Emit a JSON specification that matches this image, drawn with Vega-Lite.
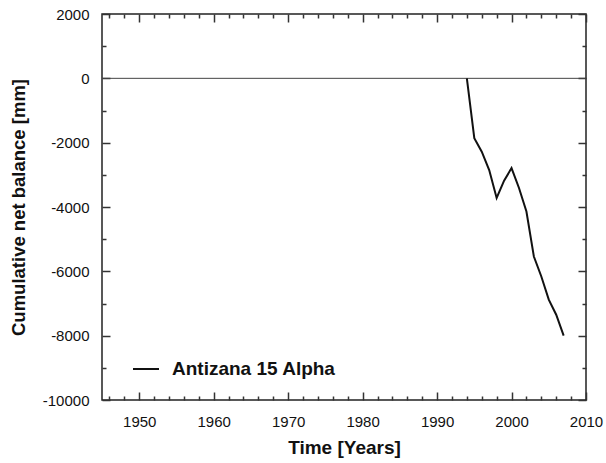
{
  "$schema": "https://vega.github.io/schema/vega-lite/v6.json",
  "width": 484,
  "height": 386,
  "autosize": "none",
  "padding": {"left": 102, "top": 14, "right": 20, "bottom": 63},
  "background": "white",
  "config": {
    "font": "Liberation Sans",
    "view": {"stroke": "#222", "strokeWidth": 1.5},
    "axis": {
      "grid": false,
      "domain": false,
      "tickColor": "#333",
      "tickWidth": 1.5,
      "labelFont": "Liberation Sans",
      "labelFontSize": 15,
      "labelColor": "#111",
      "titleFont": "Liberation Sans",
      "titleFontWeight": "bold",
      "titleColor": "#111"
    }
  },
  "data": {
    "values": [
      {"name": "Antizana 15 Alpha", "year": 1994, "balance": 0},
      {"name": "Antizana 15 Alpha", "year": 1995, "balance": -1860},
      {"name": "Antizana 15 Alpha", "year": 1996, "balance": -2280},
      {"name": "Antizana 15 Alpha", "year": 1997, "balance": -2850},
      {"name": "Antizana 15 Alpha", "year": 1998, "balance": -3720},
      {"name": "Antizana 15 Alpha", "year": 1999, "balance": -3180},
      {"name": "Antizana 15 Alpha", "year": 2000, "balance": -2790},
      {"name": "Antizana 15 Alpha", "year": 2001, "balance": -3410},
      {"name": "Antizana 15 Alpha", "year": 2002, "balance": -4140},
      {"name": "Antizana 15 Alpha", "year": 2003, "balance": -5540},
      {"name": "Antizana 15 Alpha", "year": 2004, "balance": -6160},
      {"name": "Antizana 15 Alpha", "year": 2005, "balance": -6880},
      {"name": "Antizana 15 Alpha", "year": 2006, "balance": -7350},
      {"name": "Antizana 15 Alpha", "year": 2007, "balance": -8000}
    ]
  },
  "layer": [
    {
      "data": {"values": [{"ref": 0}]},
      "mark": {"type": "rule", "color": "#444", "strokeWidth": 1},
      "encoding": {
        "y": {
          "field": "ref",
          "type": "quantitative",
          "scale": {"domain": [-10000, 2000], "nice": false, "zero": false},
          "axis": {
            "orient": "right",
            "title": null,
            "labels": false,
            "values": [-10000, -9000, -8000, -7000, -6000, -5000, -4000, -3000, -2000, -1000, 0, 1000, 2000],
            "tickSize": {"condition": {"test": "datum.value % 2000 === 0", "value": -8}, "value": -4}
          }
        },
        "x": {
          "datum": 1945,
          "type": "quantitative",
          "scale": {"domain": [1945, 2010], "nice": false, "zero": false},
          "axis": {
            "orient": "top",
            "title": null,
            "labels": false,
            "values": [1946, 1948, 1950, 1952, 1954, 1956, 1958, 1960, 1962, 1964, 1966, 1968, 1970, 1972, 1974, 1976, 1978, 1980, 1982, 1984, 1986, 1988, 1990, 1992, 1994, 1996, 1998, 2000, 2002, 2004, 2006, 2008, 2010],
            "tickSize": {"condition": {"test": "datum.value % 10 === 0", "value": -8}, "value": -4}
          }
        },
        "x2": {"datum": 2010}
      }
    },
    {
      "mark": {"type": "line", "strokeWidth": 2},
      "encoding": {
        "x": {
          "field": "year",
          "type": "quantitative",
          "scale": {"domain": [1945, 2010], "nice": false, "zero": false},
          "axis": {
            "orient": "bottom",
            "title": "Time [Years]",
            "titleFontSize": 19,
            "titlePadding": 5,
            "values": [1946, 1948, 1950, 1952, 1954, 1956, 1958, 1960, 1962, 1964, 1966, 1968, 1970, 1972, 1974, 1976, 1978, 1980, 1982, 1984, 1986, 1988, 1990, 1992, 1994, 1996, 1998, 2000, 2002, 2004, 2006, 2008, 2010],
            "labelExpr": "datum.value % 10 === 0 ? '' + datum.value : ''",
            "labelPadding": 22,
            "labelOverlap": false,
            "labelFlush": false,
            "tickSize": {"condition": {"test": "datum.value % 10 === 0", "value": -8}, "value": -4}
          }
        },
        "y": {
          "field": "balance",
          "type": "quantitative",
          "scale": {"domain": [-10000, 2000], "nice": false, "zero": false},
          "axis": {
            "orient": "left",
            "title": "Cumulative net balance [mm]",
            "titleFontSize": 18.5,
            "titlePadding": 14,
            "values": [-10000, -9000, -8000, -7000, -6000, -5000, -4000, -3000, -2000, -1000, 0, 1000, 2000],
            "labelExpr": "datum.value % 2000 === 0 ? '' + datum.value : ''",
            "labelPadding": 21,
            "labelOverlap": false,
            "labelFlush": false,
            "tickSize": {"condition": {"test": "datum.value % 2000 === 0", "value": -8}, "value": -4}
          }
        },
        "color": {
          "field": "name",
          "type": "nominal",
          "scale": {"range": ["#111"]},
          "legend": {
            "title": null,
            "orient": "none",
            "legendX": 30,
            "legendY": 341,
            "symbolType": "stroke",
            "symbolSize": 676,
            "symbolStrokeWidth": 2,
            "labelFontSize": 19,
            "labelFontWeight": "bold",
            "labelColor": "#111",
            "labelFont": "Liberation Sans",
            "labelOffset": 12,
            "labelLimit": 400
          }
        }
      }
    }
  ],
  "resolve": {"axis": {"x": "independent", "y": "independent"}}
}
